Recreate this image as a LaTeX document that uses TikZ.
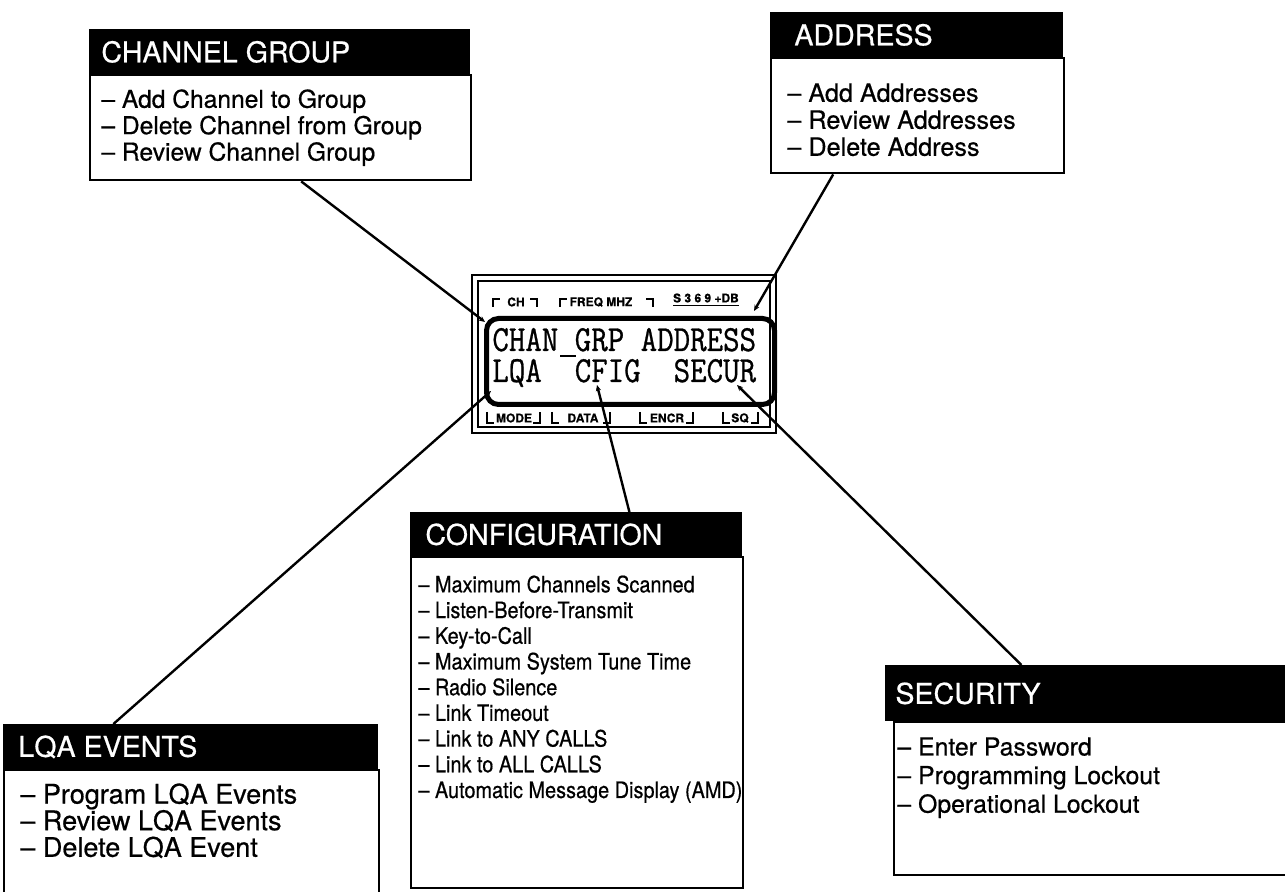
\documentclass[tikz,border=0pt]{standalone}
\usepackage{fontspec}
\setmainfont{TeX Gyre Heros}[FakeBold=0.6]
\setmonofont{Latin Modern Mono}[FakeBold=0.8]
\usetikzlibrary{positioning, arrows.meta}

\begin{document}
\begin{tikzpicture}[x=0.5pt, y=-0.5pt, >={Stealth[length=3pt,width=2.6pt]},
    head/.style={fill=black, anchor=north west, inner sep=0pt},
    title/.style={text=white, inner sep=0pt, font=\fontsize{14.3}{16}\selectfont},
    panel/.style={draw, line width=1.2pt, anchor=north west, inner sep=0pt},
    items/.style={anchor=north west, align=left, inner sep=0pt, font=\fontsize{12.6}{13.5}\selectfont},
    lead/.style={line width=1.2pt, ->},
    tag/.style={inner sep=0pt, font=\fontsize{6}{6}\bfseries\selectfont},
    lcdrow/.style={anchor=base west, inner sep=0pt}]
    \useasboundingbox (0,0) rectangle (1285,892);
    \clip (0,0) rectangle (1285,892);

    % 1. Channel group
    \node[head, minimum width=190.5pt, minimum height=22.5pt] (chgrphead) at (89,29) {};
    \node[title, right=6pt of chgrphead.west] (chgrptitle) {CHANNEL GROUP};
    \node[panel, minimum width=190.5pt, minimum height=52.5pt] (chgrpbody) at (89,74) {};
    \node[items, font=\fontsize{12.3}{13.2}\selectfont] (chgrplist) at (101,89) {%
        \textendash{} Add Channel to Group\\
        \textendash{} Delete Channel from Group\\ \textendash{} Review Channel Group};

    % 2. Address
    \node[head, minimum width=146.5pt, minimum height=22.5pt] (addrhead) at (770,12) {};
    \node[title, right=12pt of addrhead.west] (addrtitle) {ADDRESS};
    \node[panel, minimum width=146.5pt, minimum height=57.5pt] (addrbody) at (770,57) {};
    \node[items] (addrlist) at (787,83) {\textendash{} Add Addresses\\
        \textendash{} Review Addresses\\ \textendash{} Delete Address};

    % 3. Configuration
    \node[head, minimum width=166pt, minimum height=22pt] (cfghead) at (410,512) {};
    \node[title, right=7.5pt of cfghead.west] (cfgtitle) {CONFIGURATION};
    \node[panel, minimum width=166pt, minimum height=165.5pt] (cfgbody) at (410,556) {};
    \node[items, font=\fontsize{11.3}{12.85}\selectfont] (cfglist) at (418,574) {%
        \scalebox{0.88}[1]{\begin{tabular}{@{}l@{}}
        \textendash{} Maximum Channels Scanned\\ \textendash{} Listen-Before-Transmit\\
        \textendash{} Key-to-Call\\ \textendash{} Maximum System Tune Time\\
        \textendash{} Radio Silence\\ \textendash{} Link Timeout\\
        \textendash{} Link to ANY CALLS\\ \textendash{} Link to ALL CALLS\\
        \textendash{} Automatic Message Display (AMD)\end{tabular}}};

    % 4. Security
    \node[head, minimum width=205pt, minimum height=28pt] (securhead) at (885,665) {};
    \node[title, right=5pt of securhead.west] (securtitle) {SECURITY};
    \node[panel, minimum width=201pt, minimum height=76.5pt] (securbody) at (893,721) {};
    \node[items, font=\fontsize{12.4}{14.3}\selectfont] (securlist) at (897,737) {%
        \textendash{} Enter Password\\ \textendash{} Programming Lockout\\
        \textendash{} Operational Lockout};

    % 5. LQA events
    \node[head, minimum width=187.5pt, minimum height=22.5pt] (lqahead) at (3,724) {};
    \node[title, right=7.5pt of lqahead.west] (lqatitle) {LQA EVENTS};
    \node[panel, minimum width=187.5pt, minimum height=70pt] (lqabody) at (3,769) {};
    \node[items, font=\fontsize{13.5}{13.3}\selectfont] (lqalist) at (20,783) {%
        \textendash{} Program LQA Events\\ \textendash{} Review LQA Events\\
        \textendash{} Delete LQA Event};

    % 6. Display
    \draw[line width=0.8pt] (472,275) rectangle (776,433);
    \draw[line width=0.8pt] (478,281) rectangle (770,427);
    \node[draw, line width=2.5pt, rounded corners=6pt, minimum width=144pt,
        minimum height=43pt, anchor=north west, inner sep=0pt] (lcd) at (484,316) {};
    \node[lcdrow] (row1) at (492,351)
        {\scalebox{1}[1.15]{\ttfamily\fontsize{16}{16}\selectfont CHAN GRP ADDRESS}};
    \node[lcdrow] (row2) at (492,382)
        {\scalebox{1}[1.15]{\ttfamily\fontsize{16}{16}\selectfont LQA~~CFIG~~SECUR}};
    \draw[line width=1.1pt] (560,356) -- (576,356); % cursor

    \foreach \xa/\xb/\xc/\n/\t in {493/537/516/ch/CH, 560/653/601/freq/FREQ MHZ} {
        \draw[line width=0.6pt] (\xa,307) -- (\xa,299) -- (\xa+7,299);
        \draw[line width=0.6pt] (\xb-7,299) -- (\xb,299) -- (\xb,307);
        \node[tag] (\n) at (\xc,302) {\t};
    }
    \node[tag] (smeter) at (706,300) {\underline{S 3 6 9 +DB}};
    \foreach \xa/\xb/\xc/\n/\t in {487/540/514/mode/MODE, 552/610/583/data/DATA,
            640/693/667/encr/ENCR, 723/758/740/sq/SQ} {
        \draw[line width=0.6pt] (\xa,412) -- (\xa,423) -- (\xa+7,423);
        \draw[line width=0.6pt] (\xb-7,423) -- (\xb,423) -- (\xb,412);
        \node[tag] (\n) at (\xc,418) {\t};
    }

    % 7. Leaders
    \coordinate (pchan) at (485,322);
    \coordinate (paddr) at (754,311);
    \coordinate (plqa) at (491,391);
    \coordinate (pcfig) at (597,385);
    \coordinate (psecur) at (737,385);
    \draw[lead] ([xshift=10.25pt]chgrpbody.south) -- (pchan);
    \draw[lead] ([xshift=-42.25pt]addrbody.south) -- (paddr);
    \draw[lead] ([xshift=-38.75pt]lqahead.north) -- (plqa);
    \draw[lead] ([xshift=26.5pt]cfghead.north) -- (pcfig);
    \draw[lead] ([xshift=-34.5pt]securhead.north) -- (psecur);
\end{tikzpicture}
\end{document}
